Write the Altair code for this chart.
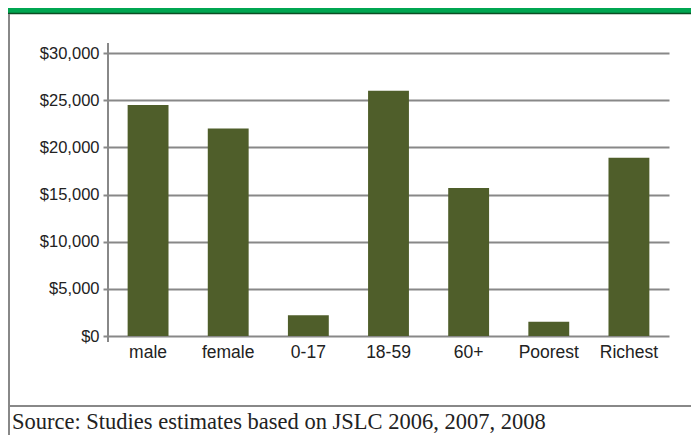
import altair as alt
import pandas as pd

categories = ["male", "female", "0-17", "18-59", "60+", "Poorest", "Richest"]
values = [24500, 22000, 2200, 26000, 15700, 1500, 18900]
y_ticks = [0, 5000, 10000, 15000, 20000, 25000, 30000]
caption = "Source: Studies estimates based on JSLC 2006, 2007, 2008"

df = pd.DataFrame({"cat": categories, "value": values})
one = pd.DataFrame({"a": [0]})

GRAY = "#888888"

bars = alt.Chart(df).mark_bar(color="#4F5E2A").encode(
    x=alt.X("cat:N", sort=categories,
            scale=alt.Scale(paddingInner=0.49, paddingOuter=0.245),
            axis=alt.Axis(title=None, labelAngle=0, domain=False, ticks=False,
                          labelFont="Liberation Sans", labelFontSize=17.5,
                          labelColor="#222222", labelPadding=7)),
    y=alt.Y("value:Q", scale=alt.Scale(domain=[0, 30000], nice=False),
            axis=alt.Axis(title=None, values=y_ticks, format="$,.0f",
                          grid=True, gridColor=GRAY, gridWidth=2,
                          domain=False, ticks=True, tickSize=5, tickColor=GRAY,
                          tickWidth=2, labelFont="Liberation Sans",
                          labelFontSize=16.5, labelColor="#222222", labelPadding=4)),
)

band = alt.Chart(one).mark_rect(color="#00A651").encode(
    x=alt.value(-100), x2=alt.value(583), y=alt.value(-45), y2=alt.value(-40))
band_line = alt.Chart(one).mark_rule(color="#0B4D23", strokeWidth=1.5).encode(
    x=alt.value(-100), x2=alt.value(583), y=alt.value(-39.5))
left_border = alt.Chart(one).mark_rule(color=GRAY, strokeWidth=2).encode(
    x=alt.value(-99), y=alt.value(-39), y2=alt.value(382))
separator = alt.Chart(one).mark_rule(color=GRAY, strokeWidth=2).encode(
    x=alt.value(-100), x2=alt.value(583), y=alt.value(353))
yaxis_line = alt.Chart(one).mark_rule(color=GRAY, strokeWidth=2).encode(
    x=alt.value(0), y=alt.value(-10), y2=alt.value(289))
cap = alt.Chart(pd.DataFrame({"t": [caption]})).mark_text(
    align="left", baseline="alphabetic", font="Liberation Serif",
    fontSize=22.5, color="#222222").encode(
    x=alt.value(-96), y=alt.value(376), text="t:N")

chart = alt.layer(band, band_line, left_border, separator, bars, yaxis_line, cap).properties(
    width=561, height=283,
    autosize=alt.AutoSizeParams(type="none"),
    padding={"left": 100, "top": 45, "right": 22, "bottom": 99},
    background="white",
).configure_view(stroke=None)

chart.save("out.html", embed_options={"renderer": "svg", "actions": False})
